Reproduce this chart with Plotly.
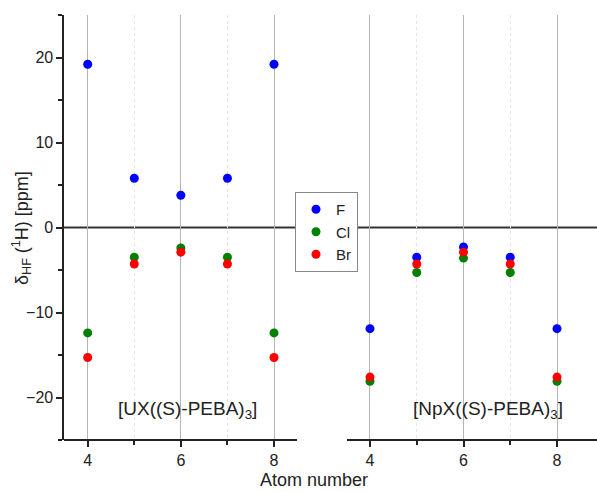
import plotly.graph_objects as go

atoms = [4, 5, 6, 7, 8]
series = ["F", "Cl", "Br"]
colors = {"F": "#0000FF", "Cl": "#008000", "Br": "#FF0000"}

u_F = [19.2, 5.8, 3.8, 5.8, 19.2]
u_Cl = [-12.4, -3.5, -2.4, -3.5, -12.4]
u_Br = [-15.3, -4.3, -2.9, -4.3, -15.3]

np_F = [-11.9, -3.5, -2.3, -3.5, -11.9]
np_Cl = [-18.1, -5.3, -3.6, -5.3, -18.1]
np_Br = [-17.6, -4.3, -2.9, -4.3, -17.6]

u_data = {"F": u_F, "Cl": u_Cl, "Br": u_Br}
np_data = {"F": np_F, "Cl": np_Cl, "Br": np_Br}

W, H = 597, 492
FONT = "Liberation Sans, Arial, sans-serif"

fig = go.Figure()
for s in series:
    fig.add_trace(go.Scatter(x=atoms, y=u_data[s], mode="markers", name=s,
                             marker=dict(color=colors[s], size=9),
                             xaxis="x", yaxis="y", showlegend=True))
for s in series:
    fig.add_trace(go.Scatter(x=atoms, y=np_data[s], mode="markers", name=s,
                             marker=dict(color=colors[s], size=9),
                             xaxis="x2", yaxis="y2", showlegend=False))

ydom = [1 - 440 / H, 1 - 15 / H]
xcommon = dict(
    tickmode="array", tickvals=[4, 6, 8], ticks="outside", ticklen=6, tickwidth=1.5,
    tickcolor="#222", showline=True, linecolor="#222", linewidth=2,
    showgrid=True, gridcolor="#b5b5b5", gridwidth=1, zeroline=False,
    minor=dict(tickvals=[5, 7], ticks="outside", ticklen=4, tickcolor="#222",
               showgrid=True, gridcolor="#e4e4e4", griddash="dot", gridwidth=1),
    tickfont=dict(family=FONT, size=16, color="#222"), anchor="free",
)
fig.update_layout(
    width=W, height=H,
    margin=dict(l=0, r=0, t=0, b=0),
    paper_bgcolor="white", plot_bgcolor="white",
    font=dict(family=FONT, color="#222"),
    xaxis=dict(domain=[64.4 / W, 297.3 / W], range=[3.5, 8.5], position=ydom[0], **xcommon),
    xaxis2=dict(domain=[346.6 / W, 1.0], range=[3.5, 8.5 + (597 - 580.4) / 46.75],
                position=ydom[0], **xcommon),
    yaxis=dict(domain=ydom, range=[-25, 25], tickvals=[-20, -10, 0, 10, 20],
               ticks="outside", ticklen=6, tickwidth=1.5, tickcolor="#222",
               showline=True, linecolor="#222", linewidth=2, showgrid=False,
               zeroline=False, anchor="x",
               minor=dict(tickvals=[-25, -15, -5, 5, 15, 25], ticks="outside",
                          ticklen=4, tickcolor="#222"),
               tickfont=dict(family=FONT, size=16, color="#222")),
    yaxis2=dict(domain=ydom, range=[-25, 25], anchor="x2", showline=False,
                showticklabels=False, ticks="", showgrid=False, zeroline=False),
    legend=dict(x=295 / W, y=1 - 192 / H, xanchor="left", yanchor="top",
                bgcolor="white", bordercolor="#888", borderwidth=1,
                font=dict(family=FONT, size=15, color="#222"),
                tracegroupgap=0, itemwidth=30),
    showlegend=True,
)

fig.add_shape(type="line", xref="paper", yref="y", x0=64 / W, x1=1.0, y0=0, y1=0,
              line=dict(color="#333", width=2), layer="below")

ann = dict(xref="paper", yref="paper", showarrow=False, xanchor="center", yanchor="middle")
fig.add_annotation(text="δ<sub>HF</sub> (<sup>1</sup>H) [ppm]",
                   x=22 / W, y=1 - 228 / H, textangle=-90,
                   font=dict(family=FONT, size=18, color="#222"), **ann)
fig.add_annotation(text="Atom number", x=314 / W, y=1 - 480 / H,
                   font=dict(family=FONT, size=18, color="#222"), **ann)
fig.add_annotation(text="[UX((S)-PEBA)<sub>3</sub>]", x=187 / W, y=1 - 410 / H,
                   font=dict(family=FONT, size=19, color="#222"), **ann)
fig.add_annotation(text="[NpX((S)-PEBA)<sub>3</sub>]", x=488 / W, y=1 - 410 / H,
                   font=dict(family=FONT, size=19, color="#222"), **ann)

fig.write_html("out.html")
